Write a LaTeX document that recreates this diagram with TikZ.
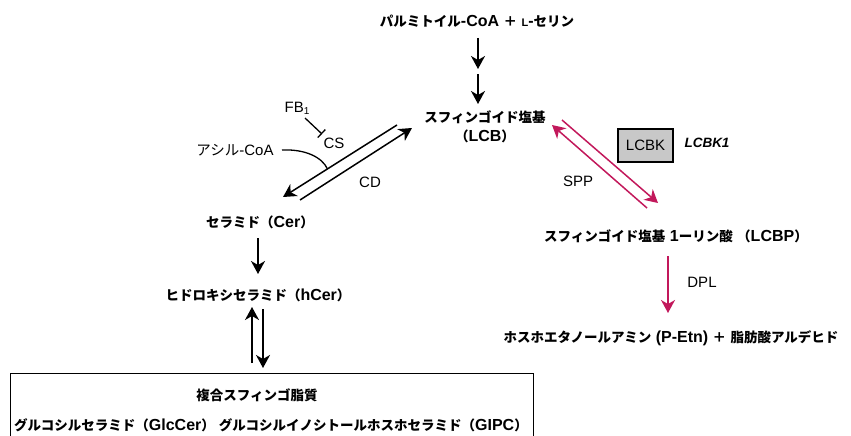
\documentclass[tikz,border=0pt]{standalone}
\usepackage{fontspec}
\setmainfont{Liberation Sans}
\newfontfamily\jpf{Noto Sans CJK JP}
\newcommand{\J}[1]{{\jpf\fontsize{13.5}{19}\selectfont #1}}
\newcommand{\Jr}[1]{{\jpf\fontsize{14.5}{18}\selectfont #1}}
\usetikzlibrary{arrows.meta}
\definecolor{mag}{HTML}{C2185B}
\definecolor{boxgray}{HTML}{C8C8C8}
\begin{document}
\begin{tikzpicture}[x=1pt,y=-1pt,
  jpb/.style={inner sep=0pt,font=\fontsize{16}{19}\selectfont\bfseries},
  lbl/.style={inner sep=0pt,font=\fontsize{15}{18}\selectfont},
  arr/.style={line width=1.5pt,-{Stealth[length=13pt,width=14pt,inset=4pt]}},
  marr/.style={arr,draw=mag,color=mag},
  inh/.style={line width=1.3pt,-{Bar[width=11pt,line width=1.3pt]}}]
\useasboundingbox (0,0) rectangle (851,436);
\clip (0,0) rectangle (851,436);
% nodes
\node[jpb] (t) at (477,21) {\J{パルミトイル}-CoA \J{＋} {\fontsize{11}{11}\selectfont L}-\J{セリン}};
\node[jpb,align=center] (lcb) at (485,127) {\J{スフィンゴイド塩基}\\\J{（}LCB\J{）}};
\node[jpb] (cer) at (260,222) {\J{セラミド（}Cer\J{）}};
\node[jpb] (hcer) at (258,295) {\J{ヒドロキシセラミド（}hCer\J{）}};
\node[jpb] (lcbp) at (676,236) {\J{スフィンゴイド塩基} 1\J{ーリン酸} \J{（}LCBP\J{）}};
\node[jpb] (pe) at (671,338) {\J{ホスホエタノールアミン} (P-Etn) \J{＋} \J{脂肪酸アルデヒド}};
\node[draw,line width=1pt,anchor=north west,minimum width=523pt,minimum height=90pt,inner sep=0pt] (box) at (10,373) {};
\node[jpb] (bt1) at (257,395) {\J{複合スフィンゴ脂質}};
\node[jpb] (bt2) at (271,425) {\J{グルコシルセラミド（}GlcCer\J{）}\hspace{4pt}\J{グルコシルイノシトールホスホセラミド（}GIPC\J{）}};
\node[lbl] (fb) at (297,108) {FB{\fontsize{10}{10}\selectfont\raisebox{-2pt}{1}}};
\node[lbl] (cs) at (334,143) {CS};
\node[lbl] (acyl) at (235,150) {\Jr{アシル}-CoA};
\node[lbl] (cd) at (370,182) {CD};
\node[lbl] (spp) at (578,181) {SPP};
\node[lbl,draw,line width=1.3pt,fill=boxgray,minimum width=55pt,minimum height=33pt] (lcbk) at (645.5,145.5) {LCBK};
\node[inner sep=0pt,font=\fontsize{13.5}{16}\selectfont\bfseries\itshape] (lcbk1) at (707,143) {LCBK1};
\node[lbl] (dpl) at (702,282) {DPL};
% coordinates
\coordinate (a1s) at (478,38); \coordinate (a1e) at (478,69);
\coordinate (a2s) at (478,74); \coordinate (a2e) at (478,104);
\coordinate (da) at (397,125); \coordinate (dae) at (283,197);
\coordinate (db) at (300,200); \coordinate (dbe) at (412,128);
\coordinate (cm) at (327.5,169);
\coordinate (acs) at (282,150);
\coordinate (fbs) at (305,118); \coordinate (fbe) at (322,134);
\coordinate (cs1) at (258,238); \coordinate (ce1) at (258,274);
\coordinate (us) at (252,363); \coordinate (ue) at (252,307);
\coordinate (ds) at (263,309); \coordinate (de) at (263,368);
\coordinate (ms) at (647,208); \coordinate (me) at (552,125);
\coordinate (ns) at (562,120); \coordinate (ne) at (658,203);
\coordinate (ps) at (668,256); \coordinate (pe2) at (668,313);
% connectors
\draw[arr] (a1s) -- (a1e);
\draw[arr] (a2s) -- (a2e);
\draw[arr] (da) -- (dae);
\draw[arr] (db) -- (dbe);
\draw[line width=1.3pt] (acs) .. controls (305,149) and (322,157) .. (cm);
\draw[inh] (fbs) -- (fbe);
\draw[arr] (cs1) -- (ce1);
\draw[arr] (us) -- (ue);
\draw[arr] (ds) -- (de);
\draw[marr] (ms) -- (me);
\draw[marr] (ns) -- (ne);
\draw[marr] (ps) -- (pe2);
\end{tikzpicture}
\end{document}
